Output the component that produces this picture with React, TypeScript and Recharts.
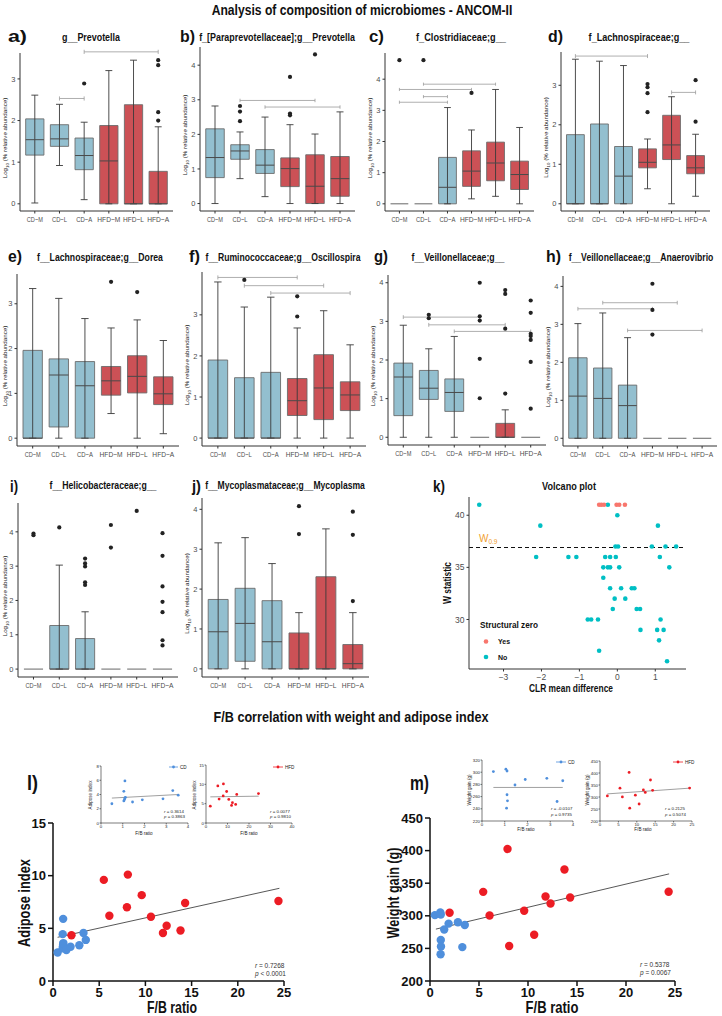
import React, { useLayoutEffect, useRef, useState } from 'react'
import { ScatterChart, Scatter, XAxis, YAxis, ReferenceArea, ReferenceLine } from 'recharts'

const GROUPS = ['CD−M', 'CD−L', 'CD−A', 'HFD−M', 'HFD−L', 'HFD−A']
const GROUP_W = [16, 15, 16, 23, 21, 22]

// box stats per group: [lower whisker, q1, median, q3, upper whisker]
const prevotellaBox = [
  [0.02, 1.17, 1.54, 2.04, 2.61],
  [0.92, 1.38, 1.56, 1.9, 2.39],
  [0.1, 0.82, 1.16, 1.58, 1.96],
  [0, 0, 1.03, 1.88, 3.2],
  [0, 0, 0, 2.38, 3.45],
  [0, 0, 0, 0.78, 1.85],
]
const prevotellaOut = [[], [], [2.89], [], [], [3.45, 3.33, 2.2, 2.0]]
const prevotellaSig = [[2, 3, 2.53], [3, 6, 3.65]]

const paraBox = [
  [0, 0.75, 1.33, 2.16, 2.82],
  [0.72, 1.28, 1.52, 1.7, 2.07],
  [0.2, 0.87, 1.11, 1.56, 2.5],
  [0, 0.49, 1.01, 1.32, 2.28],
  [0, 0, 0.5, 1.41, 2.01],
  [0, 0.21, 0.72, 1.36, 2.65],
]
const paraOut = [[], [2.82, 2.66, 2.38], [], [3.66, 2.6, 2.55], [4.31], []]
const paraSig = [[2, 5, 2.98], [3, 6, 2.79]]

const clostBox = [
  [0, 0, 0, 0, 0],
  [0, 0, 0, 0, 0],
  [0, 0, 0.53, 1.49, 3.09],
  [0.16, 0.56, 1.05, 1.7, 2.37],
  [0.24, 0.74, 1.31, 1.98, 3.67],
  [0, 0.46, 0.94, 1.37, 2.45],
]
const clostOut = [[4.61], [4.61], [], [3.56], [], []]
const clostSig = [[1, 3, 3.26], [2, 3, 3.44], [1, 4, 3.67], [2, 5, 3.84]]

const lachnoBox = [
  [0, 0, 0, 1.75, 3.66],
  [0, 0, 0, 2.02, 3.61],
  [0, 0, 0.7, 1.45, 3.5],
  [0.38, 0.91, 1.05, 1.39, 1.64],
  [0, 1.12, 1.49, 2.24, 2.71],
  [0.19, 0.76, 0.91, 1.22, 1.76],
]
const lachnoOut = [[], [], [], [3.03, 2.95, 2.8, 2.32], [], [3.13, 2.08]]
const lachnoSig = [[1, 4, 3.74], [5, 6, 2.82]]

const doreaBox = [
  [0, 0, 0, 1.96, 3.34],
  [0, 0.25, 1.41, 1.77, 3.12],
  [0, 0, 1.17, 1.71, 2.67],
  [0.55, 0.96, 1.28, 1.6, 2.46],
  [0, 1.01, 1.38, 1.84, 2.64],
  [0.1, 0.75, 0.99, 1.37, 2.18],
]
const doreaOut = [[], [], [], [3.49], [3.26], []]
const doreaSig: number[][] = []

const oscilloBox = [
  [0, 0, 0, 1.9, 3.8],
  [0, 0, 0, 1.47, 3.19],
  [0, 0, 0, 1.6, 3.43],
  [0, 0.55, 0.91, 1.45, 2.68],
  [0, 0.45, 1.22, 2.03, 3.1],
  [0, 0.67, 1.05, 1.37, 2.27],
]
const oscilloOut = [[], [3.85], [], [3.45, 2.96], [], []]
const oscilloSig = [[1, 4, 3.91], [2, 5, 3.71], [3, 6, 3.53]]

const veilBox = [
  [0, 0.56, 1.56, 1.92, 2.9],
  [0, 0.98, 1.27, 1.73, 2.29],
  [0, 0.67, 1.16, 1.51, 2.61],
  [0, 0, 0, 0, 0],
  [0, 0, 0, 0.36, 0.71],
  [0, 0, 0, 0, 0],
]
const veilOut = [[], [3.17, 3.08], [], [4.0, 3.13, 3.02, 2.03, 1.01], [3.81, 3.71, 2.81, 1.13], [3.54, 3.22, 2.68, 2.62, 2.52, 1.95, 0.74]]
const veilSig = [[1, 4, 3.11], [2, 5, 2.91], [3, 6, 2.74]]

const anaeroBox = [
  [0, 0, 1.11, 2.12, 3.02],
  [0, 0, 1.05, 1.85, 3.3],
  [0, 0, 0.86, 1.4, 2.65],
  [0, 0, 0, 0, 0],
  [0, 0, 0, 0, 0],
  [0, 0, 0, 0, 0],
]
const anaeroOut = [[], [], [], [4.07, 3.38, 2.73], [], []]
const anaeroSig = [[1, 4, 3.41], [2, 5, 3.57], [3, 6, 2.84]]

const helicoBox = [
  [0, 0, 0, 0, 0],
  [0, 0, 0, 1.27, 3.03],
  [0, 0, 0, 0.89, 1.67],
  [0, 0, 0, 0, 0],
  [0, 0, 0, 0, 0],
  [0, 0, 0, 0, 0],
]
const helicoOut = [[3.95, 3.9], [4.13], [3.22, 3.08, 2.99, 2.53, 2.45], [4.2, 3.54], [4.61], [3.96, 3.3, 2.41, 1.96, 1.66, 0.84, 0.69]]
const helicoSig: number[][] = []

const mycoBox = [
  [0, 0, 0.93, 1.74, 3.16],
  [0, 0.19, 1.14, 2.02, 3.29],
  [0, 0, 0.68, 1.71, 2.64],
  [0, 0, 0, 0.9, 1.41],
  [0, 0, 0, 2.31, 3.51],
  [0, 0, 0.13, 0.61, 1.41],
]
const mycoOut = [[], [], [], [4.08, 3.38], [], [3.94, 3.36, 1.7]]
const mycoSig: number[][] = []

// volcano plot
const yesClr = [-0.48, -0.42, -0.35, -0.02, 0.05, 0.2]
const yesW = [41, 41, 41, 41, 41, 41]
const noClr = [-3.64, -0.25, -2.03, 0, 1.07, -2.14, -1.29, -1.08, -0.05, 0.02, 0.91, 1.27, 1.55, 1.12, 1.37, -0.32, -0.19, -0.04, -0.37, -0.25, -0.19, 0.05, -0.37, -0.19, 0.1, 0.38, 0.45, -0.07, 0.21, -0.12, 0.51, 0.6, -0.78, -0.69, -0.51, 1.14, 0.61, 1.05, 1.22, 1.1, -0.48, 1.31]
const noW = [41, 41, 39, 40, 39, 36, 36, 36, 37, 37, 37, 37, 37, 36, 35, 36, 36, 36, 35, 35, 35, 35, 34, 33, 33, 33, 33, 32, 32, 31, 31, 31, 30, 30, 30, 30, 29, 29, 29, 28, 27, 26]
const W09 = 36.9

// F/B correlation: adipose index
const cdFbL = [0.5, 1.05, 1.1, 1.05, 1.08, 1.1, 1.12, 1.45, 1.9, 2.85, 3.3, 3.55]
const cdAdipose = [2.7, 4.45, 5.9, 3.1, 3.3, 3.5, 3.6, 2.95, 3.25, 3.4, 4.55, 3.9]
const hfdFbL = [2.0, 5.5, 6.1, 8.1, 8.0, 9.6, 10.6, 11.9, 12.3, 13.8, 14.3, 24.4]
const hfdAdipose = [4.35, 9.6, 6.2, 10.1, 7.0, 8.15, 6.1, 4.55, 5.25, 4.8, 7.4, 7.6]
const adiposeFit = [[0.5, 4.15], [24.5, 8.8]]
const cdAdiposeFit = [[0.5, 3.5], [3.55, 4.0]]
const hfdAdiposeFit = [[2, 6.76], [24.5, 6.94]]

// F/B correlation: weight gain
const cdFbM = [0.5, 1.05, 1.1, 1.45, 1.9, 2.85, 3.55, 3.3, 1.1, 1.12, 1.08]
const cdWeight = [301, 305, 302, 279, 288, 290, 286, 252, 263, 253, 241]
const hfdFbM = [2.0, 5.43, 6.08, 7.91, 8.08, 9.61, 10.63, 11.79, 12.3, 13.72, 14.3, 24.35]
const hfdWeight = [304.6, 336.7, 300.5, 402.5, 253.6, 307.7, 270.9, 329.6, 318.9, 370.9, 328, 337]
const weightFit = [[0.6, 279.6], [24.4, 364.3]]
const cdWeightFit = [[0.5, 275], [3.55, 275]]
const hfdWeightFit = [[2, 313], [24.5, 337]]

const BLUE_BOX = '#93bfcf'
const RED_BOX = '#cc5156'
const CD_DOT = '#4f8fdc'
const HFD_DOT = '#ec1c24'
const COND = '"Liberation Sans Narrow", "Arial Narrow", "Liberation Sans", Arial, sans-serif'

const PANELS = [
  { id: 'a)', title: 'g__Prevotella', box: prevotellaBox, out: prevotellaOut, sig: prevotellaSig, ticks: [0, 1, 2, 3], ax: 20, x2: 173, top: 53, bottom: 211, lx: 8, lw: 19, tx: 91, tw: 58, row: 0 },
  { id: 'b)', title: 'f_[Paraprevotellaceae];g__Prevotella', box: paraBox, out: paraOut, sig: paraSig, ticks: [0, 1, 2, 3, 4], ax: 200, x2: 355, top: 47, bottom: 211, lx: 180, lw: 15, tx: 277, tw: 156, row: 0 },
  { id: 'c)', title: 'f_Clostridiaceae;g__', box: clostBox, out: clostOut, sig: clostSig, ticks: [0, 1, 2, 3, 4], ax: 385, x2: 534, top: 53, bottom: 211, lx: 369, lw: 15, tx: 461, tw: 90, row: 0 },
  { id: 'd)', title: 'f_Lachnospiraceae;g__', box: lachnoBox, out: lachnoOut, sig: lachnoSig, ticks: [0, 1, 2, 3], ax: 561, x2: 710, top: 52, bottom: 211, lx: 548, lw: 15, tx: 639, tw: 101, row: 0 },
  { id: 'e)', title: 'f__Lachnospiraceae;g__Dorea', box: doreaBox, out: doreaOut, sig: doreaSig, ticks: [0, 1, 2, 3], ax: 17, x2: 179, top: 274, bottom: 446, lx: 8, lw: 14, tx: 100, tw: 126, row: 1 },
  { id: 'f)', title: 'f__Ruminococcaceae;g__Oscillospira', box: oscilloBox, out: oscilloOut, sig: oscilloSig, ticks: [0, 1, 2, 3], ax: 202, x2: 366, top: 272, bottom: 446, lx: 189, lw: 11, tx: 283, tw: 155, row: 1 },
  { id: 'g)', title: 'f__Veillonellaceae;g__', box: veilBox, out: veilOut, sig: veilSig, ticks: [0, 1, 2, 3, 4], ax: 388, x2: 546, top: 275, bottom: 445, lx: 374, lw: 14, tx: 458, tw: 93, row: 1 },
  { id: 'h)', title: 'f__Veillonellaceae;g__Anaerovibrio', box: anaeroBox, out: anaeroOut, sig: anaeroSig, ticks: [0, 1, 2, 3, 4], ax: 563, x2: 717, top: 276, bottom: 446, lx: 546, lw: 15, tx: 641, tw: 145, row: 1 },
  { id: 'i)', title: 'f__Helicobacteraceae;g__', box: helicoBox, out: helicoOut, sig: helicoSig, ticks: [0, 1, 2, 3, 4], ax: 18, x2: 178, top: 503, bottom: 677, lx: 10, lw: 8, tx: 103, tw: 107, row: 2 },
  { id: 'j)', title: 'f__Mycoplasmataceae;g__Mycoplasma', box: mycoBox, out: mycoOut, sig: mycoSig, ticks: [0, 1, 2, 3, 4], ax: 202, x2: 369, top: 498, bottom: 677, lx: 192, lw: 9, tx: 285, tw: 160, row: 2 },
]
const TITLE_Y = [41, 261, 489]
const LETTER_Y = [42, 262, 492]

const tickStyle = { fontSize: 7.5, fill: '#4d4d4d' }

// squeezes a text horizontally to a given width (no condensed font is installed)
function FitText(props: any) {
  const { x, y, w, rotate, anchor = 'middle', children, ...rest } = props
  const ref = useRef<SVGTextElement>(null)
  const [s, setS] = useState(1)
  useLayoutEffect(() => {
    const n = ref.current ? ref.current.getComputedTextLength() : 0
    if (n > 0) setS(w / n)
  }, [w])
  return (
    <text ref={ref} transform={`translate(${x},${y})${rotate ? ' rotate(-90)' : ''} scale(${s},1)`}
      textAnchor={anchor} {...rest}>{children}</text>
  )
}

function GroupTick(props: any) {
  const i = props.payload.value - 1
  return (
    <FitText x={props.x} y={props.y + 1} w={GROUP_W[i]} dy="0.71em" fontSize={7.6} fill="#4d4d4d">{GROUPS[i]}</FitText>
  )
}

function BoxPanel({ p }: { p: (typeof PANELS)[number] }) {
  const maxV = Math.max(...p.box.flat(), ...p.out.flat())
  const domain = [-0.05 * maxV, 1.05 * maxV]
  const pts = p.out.flatMap((vals, i) => vals.map(v => ({ x: i + 1, y: v })))
  const YW = 20
  const plotW = p.x2 - p.ax
  const plotH = p.bottom - p.top
  const hw = 0.37
  const cap = 0.14
  const tick = 0.05
  return (
    <div style={{ position: 'absolute', left: p.ax - YW, top: p.top - 4 }}>
      <ScatterChart width={YW + plotW + 2} height={plotH + 4 + 16} margin={{ top: 4, right: 2, left: 0, bottom: 0 }}>
        <XAxis type="number" dataKey="x" domain={[0.4, 6.6]} ticks={[1, 2, 3, 4, 5, 6]} interval={0}
          tick={<GroupTick />} height={16} tickSize={2.5} stroke="#333" allowDataOverflow />
        <YAxis type="number" dataKey="y" domain={domain} ticks={p.ticks} interval={0} width={YW}
          tick={tickStyle} tickSize={2.5} stroke="#333" allowDataOverflow />
        {p.box.map(([lo, q1, med, q3, hi], i) => {
          const x = i + 1
          const fill = i < 3 ? BLUE_BOX : RED_BOX
          return q3 > q1 ? (
            <ReferenceArea key={'b' + i} x1={x - hw} x2={x + hw} y1={q1} y2={q3} fill={fill} fillOpacity={1}
              stroke="#6c6c6c" strokeWidth={0.9} ifOverflow="visible" />
          ) : (
            <ReferenceLine key={'b' + i} segment={[{ x: x - hw, y: q1 }, { x: x + hw, y: q1 }]} stroke="#555"
              strokeWidth={0.9} ifOverflow="visible" />
          )
        })}
        {p.box.map(([lo, q1, med, q3, hi], i) => {
          const x = i + 1
          if (hi <= lo) return null
          return [
            <ReferenceLine key={'w' + i} segment={[{ x, y: lo }, { x, y: hi }]} stroke="#3a3a3a" strokeWidth={0.9} ifOverflow="visible" />,
            <ReferenceLine key={'ct' + i} segment={[{ x: x - cap, y: hi }, { x: x + cap, y: hi }]} stroke="#3a3a3a" strokeWidth={0.9} ifOverflow="visible" />,
            <ReferenceLine key={'cb' + i} segment={[{ x: x - cap, y: lo }, { x: x + cap, y: lo }]} stroke="#3a3a3a" strokeWidth={0.9} ifOverflow="visible" />,
          ]
        })}
        {p.box.map(([lo, q1, med, q3, hi], i) => {
          const x = i + 1
          if (q3 <= q1) return null
          return <ReferenceLine key={'m' + i} segment={[{ x: x - hw, y: med }, { x: x + hw, y: med }]} stroke="#4a4a4a" strokeWidth={1} ifOverflow="visible" />
        })}
        {p.sig.map(([g1, g2, y], k) => [
          <ReferenceLine key={'s' + k} segment={[{ x: g1, y }, { x: g2, y }]} stroke="#9a9a9a" strokeWidth={0.8} ifOverflow="visible" />,
          <ReferenceLine key={'sl' + k} segment={[{ x: g1, y: y - tick }, { x: g1, y: y + tick }]} stroke="#9a9a9a" strokeWidth={0.8} ifOverflow="visible" />,
          <ReferenceLine key={'sr' + k} segment={[{ x: g2, y: y - tick }, { x: g2, y: y + tick }]} stroke="#9a9a9a" strokeWidth={0.8} ifOverflow="visible" />,
        ])}
        <Scatter data={pts} isAnimationActive={false}
          shape={(s: any) => <circle cx={s.cx} cy={s.cy} r={2.1} fill="#222" />} />
      </ScatterChart>
    </div>
  )
}

function Volcano() {
  const yes = yesClr.map((x, i) => ({ x, y: yesW[i] }))
  const no = noClr.map((x, i) => ({ x, y: noW[i] }))
  const vt = { fontSize: 8.5, fill: '#4d4d4d' }
  return (
    <div style={{ position: 'absolute', left: 445, top: 493 }}>
      <ScatterChart width={24 + 217 + 4} height={4 + 172 + 14} margin={{ top: 4, right: 4, left: 0, bottom: 0 }}>
        <XAxis type="number" dataKey="x" domain={[-3.91, 1.81]} ticks={[-3, -2, -1, 0, 1]} interval={0} height={14}
          tickFormatter={(v: number) => (v < 0 ? `−${-v}` : `${v}`)} tick={vt} tickSize={2.5} stroke="#333" allowDataOverflow />
        <YAxis type="number" dataKey="y" domain={[25.25, 41.75]} ticks={[30, 35, 40]} interval={0} width={24}
          tick={vt} tickSize={2.5} stroke="#333" allowDataOverflow />
        <ReferenceLine y={W09} stroke="#111" strokeWidth={1.1} strokeDasharray="4 3" ifOverflow="visible" />
        <Scatter data={no} isAnimationActive={false}
          shape={(s: any) => <circle cx={s.cx} cy={s.cy} r={2.3} fill="#00bfc4" />} />
        <Scatter data={yes} isAnimationActive={false}
          shape={(s: any) => <circle cx={s.cx} cy={s.cy} r={2.3} fill="#f8766d" />} />
      </ScatterChart>
    </div>
  )
}

type CorrProps = {
  left: number; right: number; top: number; bottom: number
  xDomain: number[]; yDomain: number[]; xTicks: number[]; yTicks: number[]
  cdX: number[]; cdY: number[]; hfdX: number[]; hfdY: number[]; fit: number[][]
  mini?: boolean; yw: number; showCd?: boolean; showHfd?: boolean
}

function CorrChart(c: CorrProps) {
  const cd = c.showCd === false ? [] : c.cdX.map((x, i) => ({ x, y: c.cdY[i] }))
  const hfd = c.showHfd === false ? [] : c.hfdX.map((x, i) => ({ x, y: c.hfdY[i] }))
  const mini = !!c.mini
  const r = mini ? 1.4 : 4.2
  const xh = mini ? 7 : 24
  const mt = mini ? 3 : 8
  const mr = mini ? 3 : 8
  const t = mini
    ? { fontSize: 4.3, fill: '#222' }
    : { fontSize: 13, fill: '#111', fontWeight: 700 }
  const line = mini ? { stroke: '#222', strokeWidth: 0.6 } : { stroke: '#111', strokeWidth: 1.5 }
  const plotW = c.right - c.left
  const plotH = c.bottom - c.top
  return (
    <div style={{ position: 'absolute', left: c.left - c.yw, top: c.top - mt }}>
      <ScatterChart width={c.yw + plotW + mr} height={mt + plotH + xh} margin={{ top: mt, right: mr, left: 0, bottom: 0 }}>
        <XAxis type="number" dataKey="x" domain={c.xDomain} ticks={c.xTicks} interval={0} height={xh} tick={t}
          axisLine={line} tickLine={line} tickSize={mini ? 1.5 : 5} tickMargin={mini ? 0.5 : 2} allowDataOverflow />
        <YAxis type="number" dataKey="y" domain={c.yDomain} ticks={c.yTicks} interval={0} width={c.yw} tick={t}
          axisLine={line} tickLine={line} tickSize={mini ? 1.5 : 5} tickMargin={mini ? 0.5 : 2} allowDataOverflow />
        <ReferenceLine segment={[{ x: c.fit[0][0], y: c.fit[0][1] }, { x: c.fit[1][0], y: c.fit[1][1] }]}
          stroke={mini ? '#777' : '#444'} strokeWidth={mini ? 0.7 : 0.9} ifOverflow="visible" />
        <Scatter data={cd} isAnimationActive={false}
          shape={(s: any) => <circle cx={s.cx} cy={s.cy} r={r} fill={CD_DOT} />} />
        <Scatter data={hfd} isAnimationActive={false}
          shape={(s: any) => <circle cx={s.cx} cy={s.cy} r={r} fill={HFD_DOT} />} />
      </ScatterChart>
    </div>
  )
}

function LogLabel({ x, y }: { x: number; y: number }) {
  return (
    <text transform={`translate(${x},${y}) rotate(-90)`} textAnchor="middle" fontSize={6.2} fill="#222">
      Log<tspan fontSize={4.4} dy={1.8}>10</tspan><tspan dy={-1.8}> (% relative abundance)</tspan>
    </text>
  )
}

function Overlay() {
  const ital = { fontStyle: 'italic' as const }
  const bold = { fontWeight: 700, fontFamily: COND, fill: '#111' }
  return (
    <svg width={722} height={1016} style={{ position: 'absolute', left: 0, top: 0, pointerEvents: 'none' }}>
      <FitText x={362} y={15} w={301} fontSize={15} {...bold}>Analysis of composition of microbiomes - ANCOM-II</FitText>
      {PANELS.map(p => (
        <g key={p.id}>
          <FitText x={p.lx} y={LETTER_Y[p.row]} w={p.lw} anchor="start" fontSize={17} {...bold}>{p.id}</FitText>
          <FitText x={p.tx} y={TITLE_Y[p.row]} w={p.tw} fontSize={10.5} {...bold}>{p.title}</FitText>
          <LogLabel x={Math.max(p.ax - 13, 7)} y={(p.top + p.bottom) / 2 + 6} />
        </g>
      ))}

      {/* volcano */}
      <FitText x={433} y={492} w={12} anchor="start" fontSize={17} {...bold}>k)</FitText>
      <FitText x={569} y={490} w={54} fontSize={10.5} {...bold}>Volcano plot</FitText>
      <FitText x={451} y={583} w={42} rotate fontSize={10.5} {...bold}>W statistic</FitText>
      <FitText x={571} y={692} w={84} fontSize={10.5} {...bold}>CLR mean difference</FitText>
      <text x={479} y={542} fontSize={10} fill="#f0a030">W<tspan fontSize={6.5} dy={2}>0.9</tspan></text>
      <FitText x={480} y={628} w={58} anchor="start" fontSize={9.5} {...bold}>Structural zero</FitText>
      <circle cx={486} cy={641.5} r={2.3} fill="#f8766d" />
      <text x={498} y={644} fontSize={7} {...bold}>Yes</text>
      <circle cx={486} cy={657} r={2.3} fill="#00bfc4" />
      <text x={498} y={659.5} fontSize={7} {...bold}>No</text>

      {/* F/B section */}
      <FitText x={351} y={722} w={275} fontSize={14} {...bold}>F/B correlation with weight and adipose index</FitText>
      <FitText x={27} y={790} w={11} anchor="start" fontSize={20} {...bold}>l)</FitText>
      <FitText x={410} y={790} w={19} anchor="start" fontSize={20} {...bold}>m)</FitText>

      <FitText x={30} y={903} w={88} rotate fontSize={16} {...bold}>Adipose index</FitText>
      <FitText x={172} y={1013} w={50} fontSize={16} {...bold}>F/B ratio</FitText>
      <FitText x={399} y={893} w={91} rotate fontSize={16} {...bold}>Weight gain (g)</FitText>
      <FitText x={552} y={1013} w={53} fontSize={16} {...bold}>F/B ratio</FitText>

      <text x={255} y={968} fontSize={6.5} fill="#333"><tspan {...ital}>r</tspan> = 0.7268</text>
      <text x={255} y={976} fontSize={6.5} fill="#333"><tspan {...ital}>p</tspan> &lt; 0.0001</text>
      <text x={640} y={967} fontSize={6.5} fill="#333"><tspan {...ital}>r</tspan> = 0.5378</text>
      <text x={640} y={975} fontSize={6.5} fill="#333"><tspan {...ital}>p</tspan> = 0.0067</text>

      {/* inset labels l */}
      <text transform="translate(92,795) rotate(-90)" textAnchor="middle" fontSize={4.6} fill="#222">Adipose index</text>
      <text x={144} y={835} textAnchor="middle" fontSize={4.6} fill="#222">F/B ratio</text>
      <line x1={169} x2={178} y1={767} y2={767} stroke={CD_DOT} strokeWidth={0.8} />
      <circle cx={173.5} cy={767} r={1.4} fill={CD_DOT} />
      <text x={180} y={768.5} fontSize={4.6} fill="#222">CD</text>
      <text x={164} y={813} fontSize={4.4} fill="#222"><tspan {...ital}>r</tspan> = 0.3614</text>
      <text x={164} y={818} fontSize={4.4} fill="#222"><tspan {...ital}>p</tspan> = 0.3863</text>

      <text transform="translate(196,795) rotate(-90)" textAnchor="middle" fontSize={4.6} fill="#222">Adipose index</text>
      <text x={249} y={835} textAnchor="middle" fontSize={4.6} fill="#222">F/B ratio</text>
      <line x1={273} x2={283} y1={767} y2={767} stroke={HFD_DOT} strokeWidth={0.8} />
      <circle cx={278} cy={767} r={1.4} fill={HFD_DOT} />
      <text x={285} y={768.5} fontSize={4.6} fill="#222">HFD</text>
      <text x={270} y={813} fontSize={4.4} fill="#222"><tspan {...ital}>r</tspan> = 0.0077</text>
      <text x={270} y={818} fontSize={4.4} fill="#222"><tspan {...ital}>p</tspan> = 0.9810</text>

      {/* inset labels m */}
      <text transform="translate(471,790) rotate(-90)" textAnchor="middle" fontSize={4.6} fill="#222">Weight gain (g)</text>
      <text x={526} y={831} textAnchor="middle" fontSize={4.6} fill="#222">F/B ratio</text>
      <line x1={556} x2={566} y1={762} y2={762} stroke={CD_DOT} strokeWidth={0.8} />
      <circle cx={561} cy={762} r={1.4} fill={CD_DOT} />
      <text x={568} y={763.5} fontSize={4.6} fill="#222">CD</text>
      <text x={551} y={810} fontSize={4.4} fill="#222"><tspan {...ital}>r</tspan> = -0.0107</text>
      <text x={551} y={816} fontSize={4.4} fill="#222"><tspan {...ital}>p</tspan> = 0.9735</text>

      <text transform="translate(589,790) rotate(-90)" textAnchor="middle" fontSize={4.6} fill="#222">Weight gain (g)</text>
      <text x={643} y={831} textAnchor="middle" fontSize={4.6} fill="#222">F/B ratio</text>
      <line x1={673} x2={683} y1={762} y2={762} stroke={HFD_DOT} strokeWidth={0.8} />
      <circle cx={678} cy={762} r={1.4} fill={HFD_DOT} />
      <text x={685} y={763.5} fontSize={4.6} fill="#222">HFD</text>
      <text x={665} y={810} fontSize={4.4} fill="#222"><tspan {...ital}>r</tspan> = 0.2125</text>
      <text x={665} y={816} fontSize={4.4} fill="#222"><tspan {...ital}>p</tspan> = 0.5074</text>
    </svg>
  )
}

export default function App() {
  return (
    <div style={{ position: 'absolute', left: 0, top: 0, width: 722, height: 1016, background: '#fff', fontFamily: '"Liberation Sans", Arial, sans-serif', overflow: 'hidden' }}>
      {PANELS.map(p => <BoxPanel key={p.id} p={p} />)}
      <Volcano />
      <CorrChart left={53} right={284} top={823} bottom={981} xDomain={[0, 25]} yDomain={[0, 15]}
        xTicks={[0, 5, 10, 15, 20, 25]} yTicks={[0, 5, 10, 15]} cdX={cdFbL} cdY={cdAdipose} hfdX={hfdFbL}
        hfdY={hfdAdipose} fit={adiposeFit} yw={40} />
      <CorrChart left={430} right={675} top={818} bottom={981} xDomain={[0, 25]} yDomain={[200, 450]}
        xTicks={[0, 5, 10, 15, 20, 25]} yTicks={[200, 250, 300, 350, 400, 450]} cdX={cdFbM} cdY={cdWeight}
        hfdX={hfdFbM} hfdY={hfdWeight} fit={weightFit} yw={44} />
      <CorrChart mini left={101} right={188} top={766} bottom={823} xDomain={[0, 4]} yDomain={[0, 8]}
        xTicks={[0, 1, 2, 3, 4]} yTicks={[0, 2, 4, 6, 8]} cdX={cdFbL} cdY={cdAdipose} hfdX={[]} hfdY={[]}
        fit={cdAdiposeFit} yw={8} showHfd={false} />
      <CorrChart mini left={206} right={292} top={765} bottom={823} xDomain={[0, 40]} yDomain={[0, 15]}
        xTicks={[0, 10, 20, 30, 40]} yTicks={[0, 5, 10, 15]} cdX={[]} cdY={[]} hfdX={hfdFbL} hfdY={hfdAdipose}
        fit={hfdAdiposeFit} yw={9} showCd={false} />
      <CorrChart mini left={482} right={573} top={760} bottom={821} xDomain={[0, 4]} yDomain={[220, 320]}
        xTicks={[0, 1, 2, 3, 4]} yTicks={[220, 240, 260, 280, 300, 320]} cdX={cdFbM} cdY={cdWeight} hfdX={[]}
        hfdY={[]} fit={cdWeightFit} yw={11} showHfd={false} />
      <CorrChart mini left={600} right={692} top={761} bottom={821} xDomain={[0, 25]} yDomain={[200, 450]}
        xTicks={[0, 5, 10, 15, 20, 25]} yTicks={[200, 250, 300, 350, 400, 450]} cdX={[]} cdY={[]} hfdX={hfdFbM}
        hfdY={hfdWeight} fit={hfdWeightFit} yw={11} showCd={false} />
      <Overlay />
    </div>
  )
}
